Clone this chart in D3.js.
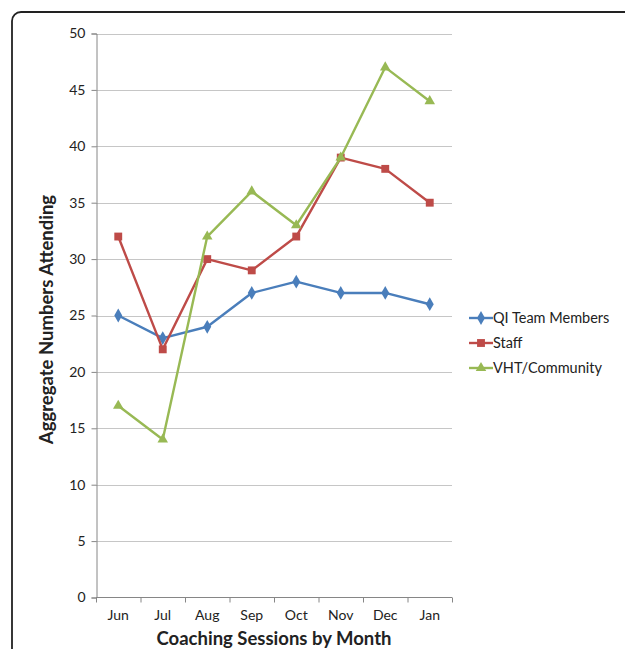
<!DOCTYPE html>
<html>
<head>
<meta charset="utf-8">
<script src="https://cdn.jsdelivr.net/npm/d3@7"></script>
<style>
  html, body { margin: 0; padding: 0; background: #fff; }
  svg { display: block; }
</style>
</head>
<body>
<svg id="chart" width="625" height="649"></svg>
<script>
// Monthly coaching session attendance
const months = ["Jun", "Jul", "Aug", "Sep", "Oct", "Nov", "Dec", "Jan"];
const qiTeam = [25, 23, 24, 27, 28, 27, 27, 26];
const staff = [32, 22, 30, 29, 32, 39, 38, 35];
const vhtCommunity = [17, 14, 32, 36, 33, 39, 47, 44];
const yTicks = [0, 5, 10, 15, 20, 25, 30, 35, 40, 45, 50];

const series = [
  { name: "QI Team Members", values: qiTeam, color: "#4A7EBB", symbol: d3.symbolDiamond, size: 55 },
  { name: "Staff", values: staff, color: "#BE4B48", symbol: d3.symbolSquare, size: 62 },
  { name: "VHT/Community", values: vhtCommunity, color: "#98B954", symbol: d3.symbolTriangle, size: 48 }
];

const font = "Lato, 'Open Sans', sans-serif";
const svg = d3.select("#chart");

// Outer rounded frame
svg.append("rect")
  .attr("x", 12).attr("y", 12)
  .attr("width", 640).attr("height", 660)
  .attr("rx", 9).attr("ry", 9)
  .attr("fill", "none").attr("stroke", "#222").attr("stroke-width", 1.8);

const plot = { left: 96, right: 452, top: 33.5, bottom: 597.5 };

const x = d3.scaleBand().domain(months).range([plot.left, plot.right]);
const y = d3.scaleLinear().domain([0, 50]).range([plot.bottom, plot.top]);

// Horizontal gridlines
svg.append("g")
  .selectAll("line")
  .data(yTicks.filter(t => t > 0))
  .join("line")
  .attr("x1", plot.left).attr("x2", plot.right)
  .attr("y1", d => Math.round(y(d)) + 0.5).attr("y2", d => Math.round(y(d)) + 0.5)
  .attr("stroke", "#c6c6c6").attr("stroke-width", 1.2);

// Y axis
const yAxis = svg.append("g")
  .attr("transform", `translate(${plot.left + 0.5},0)`)
  .call(d3.axisLeft(y).tickValues(yTicks).tickSize(5).tickPadding(6).tickFormat(d3.format("d")));
yAxis.select(".domain").attr("stroke", "#868686");
yAxis.selectAll(".tick line").attr("stroke", "#868686");
yAxis.selectAll(".tick text")
  .attr("font-family", font).attr("font-size", 14).attr("fill", "#222");

// X axis with ticks on category boundaries
const xAxisG = svg.append("g").attr("transform", `translate(0,${plot.bottom})`);
xAxisG.append("line")
  .attr("x1", plot.left).attr("x2", plot.right)
  .attr("stroke", "#868686");
xAxisG.selectAll("line.bound")
  .data(d3.range(months.length + 1))
  .join("line")
  .attr("class", "bound")
  .attr("x1", i => plot.left + i * x.bandwidth() + 0.5)
  .attr("x2", i => plot.left + i * x.bandwidth() + 0.5)
  .attr("y1", 0).attr("y2", 5)
  .attr("stroke", "#868686");
xAxisG.selectAll("text")
  .data(months)
  .join("text")
  .attr("x", d => x(d) + x.bandwidth() / 2)
  .attr("y", 22)
  .attr("text-anchor", "middle")
  .attr("font-family", font).attr("font-size", 14).attr("fill", "#222")
  .text(d => d);

// Axis titles
svg.append("text")
  .attr("x", (plot.left + plot.right) / 2).attr("y", 645)
  .attr("text-anchor", "middle")
  .attr("font-family", font).attr("font-size", 18.5).attr("font-weight", "bold").attr("fill", "#222")
  .text("Coaching Sessions by Month");

svg.append("text")
  .attr("transform", `translate(53,${(plot.top + plot.bottom) / 2 + 4}) rotate(-90)`)
  .attr("text-anchor", "middle")
  .attr("font-family", font).attr("font-size", 18.5).attr("font-weight", "bold").attr("fill", "#222")
  .text("Aggregate Numbers Attending");

// Series lines and markers
const line = d3.line()
  .x((d, i) => x(months[i]) + x.bandwidth() / 2)
  .y(d => y(d));

series.forEach(s => {
  const g = svg.append("g");
  g.append("path")
    .attr("d", line(s.values))
    .attr("fill", "none").attr("stroke", s.color).attr("stroke-width", 2.4)
    .attr("stroke-linejoin", "round");
  g.selectAll("path.mark")
    .data(s.values)
    .join("path")
    .attr("class", "mark")
    .attr("transform", (d, i) => `translate(${x(months[i]) + x.bandwidth() / 2},${y(d)})`)
    .attr("d", d3.symbol().type(s.symbol).size(s.size))
    .attr("fill", s.color);
});

// Legend
const legend = svg.append("g").attr("transform", "translate(469,318)");
series.forEach((s, i) => {
  const row = legend.append("g").attr("transform", `translate(0,${i * 25})`);
  row.append("line")
    .attr("x1", 0).attr("x2", 24)
    .attr("stroke", s.color).attr("stroke-width", 2.4);
  row.append("path")
    .attr("transform", "translate(12,0)")
    .attr("d", d3.symbol().type(s.symbol).size(s.size))
    .attr("fill", s.color);
  row.append("text")
    .attr("x", 24).attr("y", 0).attr("dy", "0.35em")
    .attr("font-family", font).attr("font-size", 14.5).attr("fill", "#222")
    .text(s.name);
});
</script>
</body>
</html>
